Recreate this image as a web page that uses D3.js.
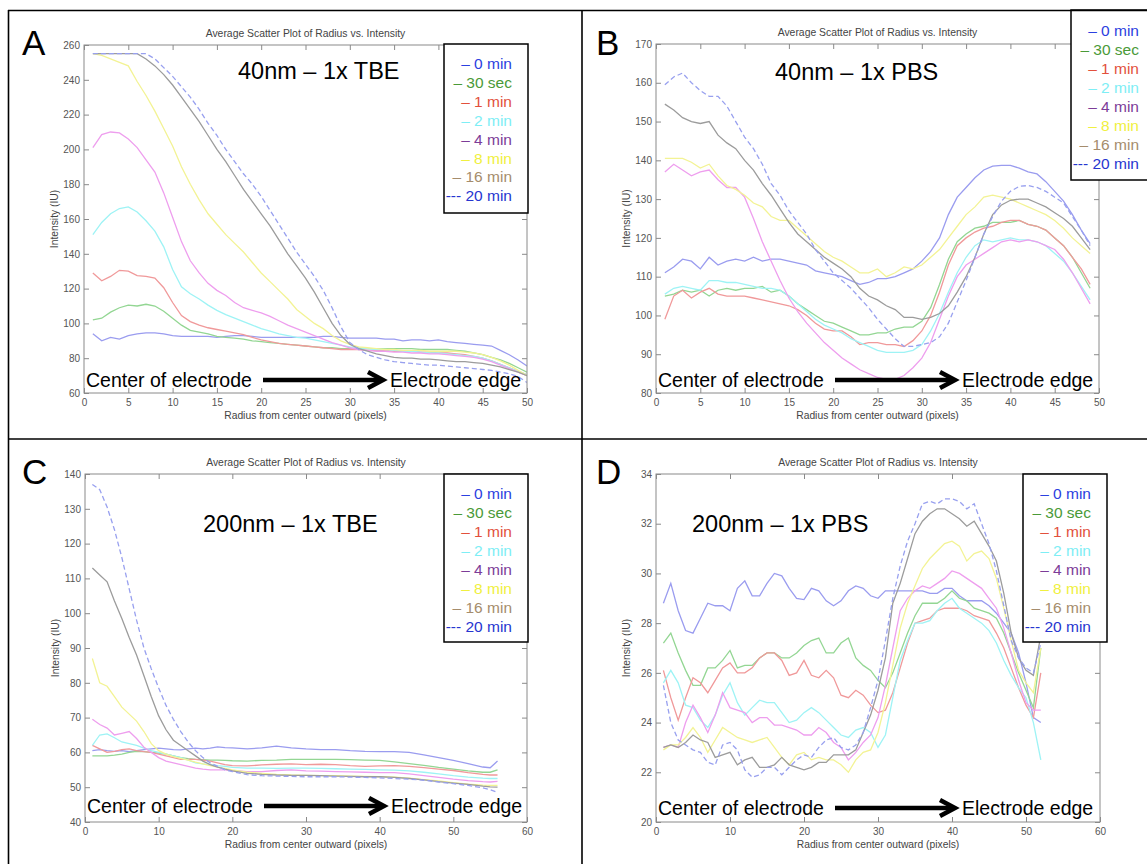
<!DOCTYPE html>
<html>
<head>
<meta charset="utf-8">
<script src="https://cdn.jsdelivr.net/npm/d3@7"></script>
<style>
  body { margin: 0; background: #fff; }
  svg { display: block; font-family: "Liberation Sans", Arial, sans-serif; }
</style>
</head>
<body>
<svg id="fig" width="1147" height="864"></svg>
<script>
/* DATA */
const seriesNames = ["0 min", "30 sec", "1 min", "2 min", "4 min", "8 min", "16 min", "20 min"];
const legendLabels = ["\u2013 0 min", "\u2013 30 sec", "\u2013 1 min", "\u2013 2 min", "\u2013 4 min", "\u2013 8 min", "\u2013 16 min", "--- 20 min"];

// radius (pixels) sampled in each panel
const radiusA = d3.range(1, 51);
const radiusB = d3.range(1, 50);
const radiusC = d3.range(1, 21).concat(d3.range(22, 55, 2), [55, 56]);
const radiusD = d3.range(1, 53);

// A: 40nm - 1x TBE
const tbe40_0min = [94, 90, 92, 91, 93, 94, 94.5, 94.5, 94, 93, 92.5, 92.5, 92.5, 92.5, 92, 92.5, 93, 93, 92.5, 92, 92, 92, 92, 92, 92, 92, 92.5, 92.5, 92, 91.5, 91.5, 91.5, 91.5, 91, 91, 90, 90.5, 90.5, 90, 90.5, 89.5, 89, 88.5, 88, 87.5, 87, 84.5, 82, 79, 75.5];
const tbe40_30sec = [102, 103, 106.5, 109, 110.5, 110, 111, 110, 107, 103, 99, 96, 95, 94, 92.5, 92, 91.5, 91, 90, 89.5, 89, 88.5, 88, 87.5, 87, 86.5, 86, 86, 85.5, 85.5, 85.5, 85.5, 85.5, 85.5, 85.5, 85.5, 85.5, 85, 85, 85, 85, 84.5, 84, 83, 82, 80.5, 79, 77, 74.5, 72];
const tbe40_1min = [129, 124.5, 127, 130.5, 130, 127.5, 127, 126, 120.5, 112, 104.5, 101, 99, 97.5, 96.5, 95.5, 94.5, 93.5, 92, 90.5, 89.5, 88.5, 88, 87.5, 87, 86.5, 86, 85.5, 85, 85, 85, 84.5, 84.5, 84.5, 84, 84, 84, 83.5, 83.5, 83, 83, 82.5, 82, 81, 80, 78.5, 76.5, 74.5, 72.5, 70.5];
const tbe40_2min = [151, 158, 163, 166, 167, 164, 159, 153, 144, 131, 121, 117, 114, 110.5, 107.5, 105, 103, 101, 99, 97, 95.5, 94, 93, 92, 91.5, 90.5, 89.5, 88.5, 87.5, 86.5, 86, 85.5, 85, 85, 84.5, 84, 84, 83.5, 83, 83, 82.5, 82, 81.5, 81, 80, 78.5, 76.5, 74.5, 72.5, 70.5];
const tbe40_4min = [201, 208.5, 210, 209.5, 206, 201, 194, 187, 175, 161, 147, 136, 129, 123, 119, 116, 112, 109, 107.5, 106, 104, 101.5, 99, 97, 95, 93, 91, 89, 87.5, 86, 85, 84.5, 84, 84, 83.5, 83.5, 83, 83, 82.5, 82.5, 82, 81.5, 81, 80.5, 79.5, 78, 76, 74, 72, 70];
const tbe40_8min = [255, 254, 252, 250, 248, 239, 231, 222, 212, 202, 190, 180, 171, 163, 157, 151, 146, 141, 135, 129, 124, 119, 114, 108, 104, 100, 97, 93, 90, 88, 86.5, 86, 85.5, 85, 85, 84.5, 84.5, 84.5, 84, 84, 84, 84, 83.5, 83, 82, 80.5, 78.5, 76, 73, 70];
const tbe40_16min = [255, 255, 255, 255, 255, 255, 252, 248, 243, 237, 230, 223, 216, 208, 200, 193, 185, 177, 170, 163, 156, 148, 140, 133, 126, 118, 109, 100, 93, 88, 85.5, 84, 82.5, 81.5, 80.5, 80, 80, 79.5, 79.5, 79, 78.5, 78, 78, 77.5, 77, 76, 75, 73.5, 72, 70];
const tbe40_20min = [255, 255, 255, 255, 255, 255, 255, 252, 247, 242, 236, 230, 223, 215, 208, 200, 193, 186, 180, 173, 165, 157, 149, 141, 134, 127, 119, 109, 98, 89, 85, 82, 80.5, 79, 78, 77.5, 77, 76.5, 76, 76, 75.5, 75, 74.5, 74, 73.5, 73, 72, 71, 69.5, 66];

// B: 40nm - 1x PBS
const pbs40_0min = [111, 112.5, 114.5, 114, 112, 115, 113, 114, 114.5, 114, 115, 114, 114.5, 114.5, 114, 113.5, 113, 111.5, 111, 110.5, 110, 109, 108, 108.5, 109.5, 109.5, 110, 111, 112, 114, 116.5, 120, 126, 130.5, 133, 135.5, 137.5, 138.5, 138.7, 138.7, 138, 137, 136.5, 134.5, 132, 129.5, 126, 122, 118.5];
const pbs40_30sec = [105, 105.5, 106.5, 106, 106.5, 105, 106.5, 107, 106.5, 107, 107, 107.5, 106, 106.5, 105, 103, 101.5, 100, 98.5, 98, 97, 96, 95, 95, 95.5, 95.5, 96.5, 97, 97, 98.5, 102, 108, 114.5, 119, 121, 122.5, 123, 124, 124, 124, 124.5, 123.5, 123, 122, 120, 118, 115, 111, 107];
const pbs40_1min = [99, 105, 106.5, 104.5, 106, 107, 105.5, 105, 105, 105, 104.5, 104, 103.5, 103, 102.5, 101.5, 100, 98, 96.5, 96, 96, 94.5, 92.5, 93, 93, 92.5, 92.5, 92, 93.5, 96, 100, 106, 113, 118, 120, 121.5, 122.5, 123, 124, 124.5, 124.5, 123.5, 123, 122, 120, 118, 115, 112, 108];
const pbs40_2min = [105.5, 107, 107.5, 107, 106.5, 109, 109, 108.5, 108.5, 108, 107.5, 107, 107, 106.5, 105, 103, 101, 99, 97.5, 96.5, 95.5, 94, 93, 92, 91, 90.5, 90.5, 90.5, 91, 92.5, 96, 100.5, 106, 111, 115, 118, 119.5, 119, 119.5, 120, 119.5, 119.5, 119, 118, 116, 114, 111, 107.5, 104];
const pbs40_4min = [137, 139, 137.5, 136, 137, 137.5, 135, 133, 133, 130.5, 125, 119, 114, 109, 104.5, 101, 98, 95.5, 93, 91, 89, 87.5, 86, 85, 84, 83.5, 83.5, 84.5, 86.5, 89, 93, 99, 105, 110, 113, 114.5, 116, 117.5, 119, 119.5, 119, 119.5, 119, 118, 117, 114.5, 111, 107, 103];
const pbs40_8min = [140.5, 140.5, 140.5, 139.5, 138, 139, 136, 133.5, 132.5, 131, 129, 128, 125.5, 124.5, 124.5, 122.5, 120.5, 118.5, 116.5, 115, 114, 112.5, 111, 111, 112, 110, 111, 112.5, 112, 113, 115, 117, 120, 123, 126, 128, 130.5, 131, 130.5, 130, 129, 128, 127, 126, 124.5, 122.5, 120, 118, 116];
const pbs40_16min = [154.5, 153, 151, 150, 149.5, 150, 146.5, 144.5, 143, 140, 137.5, 134, 131, 127.5, 124, 121, 119, 117, 115, 113.5, 112, 110, 107, 105, 104, 102.5, 101.5, 99.5, 99.5, 99, 99.5, 100.5, 102.5, 106, 110, 115, 121, 126, 128.5, 129.7, 130, 130, 129, 128, 126.5, 125, 123, 120, 117];
const pbs40_20min = [159.5, 161.5, 162.5, 160, 158, 156.5, 156.5, 154, 150, 146, 143, 139, 134, 131, 127, 124, 121, 117, 114, 111, 109, 107, 104.5, 102, 99, 96.5, 94, 92, 92, 92.5, 93, 94.5, 98, 103.5, 109, 115, 121, 125.5, 129.5, 132, 133.3, 133.5, 133, 132, 130.5, 129, 125.5, 122, 118];

// C: 200nm - 1x TBE
const tbe200_0min = [60.5, 60.8, 60.5, 60.3, 60.5, 60.2, 60.5, 60.8, 61, 61.2, 61, 60.8, 60.7, 61, 61.2, 61, 61.2, 61.6, 61.4, 61.3, 61, 61.3, 61.8, 61.3, 61, 60.8, 60.8, 60.5, 60.3, 60.2, 60.2, 60, 59.3, 58.5, 57.7, 56.8, 55.8, 55.6, 57.5];
const tbe200_30sec = [59, 59, 59, 59.2, 59.5, 60, 60.3, 60.2, 60, 59.8, 59.5, 59, 58.5, 58.2, 58, 57.9, 57.8, 57.8, 57.7, 57.6, 57.5, 57.7, 57.8, 58, 58, 58, 58, 57.9, 57.8, 57.7, 57.3, 56.8, 56.3, 55.7, 55.2, 54.7, 54.3, 54.3, 55];
const tbe200_1min = [62, 61, 60, 60.3, 60.8, 61, 60.5, 60.2, 60, 59.5, 59, 58.5, 58, 58, 58, 57.8, 57.5, 57, 56.5, 56.2, 56.1, 56.4, 56.6, 56.7, 56.5, 56.6, 56.5, 56.2, 56, 56.1, 56.2, 56, 55.6, 55.2, 54.8, 54.2, 53.7, 53.5, 53.5];
const tbe200_2min = [62, 65, 65.3, 64.2, 63, 62.5, 62, 61.2, 60.5, 60, 59.5, 59, 58.5, 57.8, 57, 56.7, 56.5, 56.2, 56, 55.7, 55.5, 55.5, 55.4, 55.5, 55.5, 55.4, 55.3, 55.2, 55.1, 55, 54.9, 54.7, 54.3, 53.8, 53.3, 52.9, 52.6, 52.5, 52.5];
const tbe200_4min = [69.5, 68, 67, 65, 65.5, 66, 64, 61.5, 60, 58.5, 57.5, 57, 56.5, 56, 55.5, 55.2, 55, 55, 55, 54.8, 54.5, 54.5, 54.8, 55, 54.7, 54.6, 54.5, 54.4, 54.3, 54.2, 54.2, 53.8, 53.3, 52.8, 52.3, 51.9, 51.6, 51.5, 51.7];
const tbe200_8min = [87, 80, 79, 76, 73, 71, 69, 66, 62.5, 60.5, 59.5, 58.8, 58.3, 57.8, 57.2, 56.7, 56.2, 55.8, 55.4, 55, 54.3, 54, 53.7, 53.5, 53.4, 53.3, 53.3, 53.2, 53.1, 53, 52.9, 52.6, 52.2, 51.8, 51.3, 50.9, 50.6, 50.5, 50.5];
const tbe200_16min = [113, 111, 109, 103.5, 98.5, 93, 88, 82, 76, 70.5, 66.5, 63.5, 62, 60.5, 59, 57.5, 56.5, 55.8, 55.2, 54.7, 54, 53.7, 53.5, 53.4, 53.4, 53.3, 53.2, 53.1, 53, 53, 52.8, 52.5, 52.1, 51.6, 51.2, 50.8, 50.3, 50.1, 50];
const tbe200_20min = [137, 135.5, 130.5, 124, 116, 107, 98, 90, 84, 78.5, 73.5, 69.5, 66, 63, 60.5, 58.5, 57, 56, 55, 54.5, 53.6, 53.3, 53.2, 53.1, 53, 53, 53, 52.9, 52.8, 52.7, 52.5, 52.3, 52, 51.5, 51, 50.5, 49.8, 49.3, 48.5];

// D: 200nm - 1x PBS
const pbs200_0min = [28.8, 29.6, 28.5, 27.7, 27.6, 28.2, 28.8, 28.7, 28.7, 28.5, 29.4, 29.7, 29.1, 29.1, 29.6, 30.0, 29.9, 29.4, 29.0, 28.95, 29.4, 29.3, 28.9, 28.7, 28.9, 29.3, 29.5, 29.4, 29.1, 29.0, 29.3, 29.3, 29.3, 29.3, 29.3, 29.3, 29.2, 29.2, 29.4, 29.4, 29.1, 28.9, 28.9, 28.9, 28.7, 28.4, 28.0, 27.6, 26.8, 25.6, 24.2, 24.0];
const pbs200_30sec = [27.2, 27.6, 26.8, 26.1, 25.5, 25.5, 26.2, 26.2, 26.5, 26.9, 26.2, 26.3, 26.3, 26.6, 26.8, 26.8, 26.6, 26.6, 26.8, 27.1, 27.3, 27.4, 26.8, 26.8, 27.2, 27.4, 26.6, 26.3, 26.1, 25.7, 25.4, 26.0, 26.8, 27.6, 28.3, 28.8, 28.8, 28.8, 29.0, 29.3, 29.0, 28.9, 28.6, 28.5, 28.4, 28.2, 27.6, 26.8, 26.0, 25.3, 24.6, 27.0];
const pbs200_1min = [26.1, 25.0, 24.1, 25.0, 25.8, 25.6, 25.2, 25.7, 26.2, 26.4, 26.0, 26.0, 26.2, 26.6, 26.8, 26.8, 26.5, 25.9, 26.0, 26.5, 25.9, 25.8, 26.1, 25.8, 25.1, 25.0, 25.3, 25.1, 24.7, 24.4, 24.5, 25.2, 26.2, 27.2, 28.0, 28.1, 28.2, 28.5, 28.6, 28.6, 28.6, 28.5, 28.3, 28.2, 28.1, 27.6, 27.0, 26.2, 25.4, 24.7, 24.2, 26.0];
const pbs200_2min = [25.6, 26.1, 25.6, 24.7, 24.6, 24.1, 23.8, 24.3, 25.1, 25.6, 24.8, 24.3, 24.6, 24.9, 24.8, 24.8, 24.4, 24.0, 24.1, 24.4, 24.6, 24.4, 24.1, 23.8, 23.5, 23.4, 23.7, 23.8, 23.6, 23.0, 23.5, 25.0, 26.5, 27.3, 28.0, 28.0, 28.1, 28.5, 28.8, 29.0, 28.6, 28.4, 28.2, 28.0, 27.7, 27.2, 26.5, 25.9, 25.4, 25.0, 24.0, 22.5];
const pbs200_4min = [23.0, 23.1, 23.0, 24.0, 24.7, 24.2, 23.6, 24.3, 25.2, 24.6, 24.5, 24.4, 24.0, 24.2, 24.2, 23.9, 23.9, 23.8, 23.7, 23.5, 23.5, 23.8, 23.6, 23.2, 23.0, 22.5, 22.8, 23.2, 23.5, 24.2, 25.5, 27.0, 28.5, 29.0, 29.3, 29.5, 29.4, 29.6, 29.8, 30.1, 30.0, 29.8, 29.6, 29.4, 29.0, 28.6, 27.8, 26.8, 25.7, 24.8, 24.5, 24.5];
const pbs200_8min = [22.9, 23.1, 23.1, 23.4, 23.8, 23.4, 22.8, 23.3, 23.8, 23.6, 23.4, 23.3, 23.2, 23.3, 23.4, 23.0, 22.6, 22.3, 22.7, 22.8, 22.5, 22.6, 22.5, 22.5, 22.3, 22.0, 22.5, 22.8, 22.9, 23.6, 24.8, 26.3, 27.8, 28.8, 29.5, 30.2, 30.6, 30.9, 31.2, 31.3, 31.1, 30.5, 30.8, 30.9, 30.6, 29.8, 28.6, 27.3, 26.1, 25.6, 25.2, 27.0];
const pbs200_16min = [23.0, 23.1, 23.0, 23.2, 23.5, 23.3, 23.2, 22.6, 22.7, 22.8, 22.3, 22.5, 22.6, 22.2, 22.2, 22.3, 22.6, 22.3, 22.2, 22.1, 22.2, 22.4, 22.4, 22.7, 22.7, 22.7, 22.9, 23.6, 24.3, 25.3, 26.6, 28.8, 29.6, 30.6, 31.6, 32.1, 32.4, 32.6, 32.6, 32.4, 32.2, 31.9, 32.1, 31.6, 31.1, 30.5, 29.2, 27.6, 26.6, 26.1, 25.9, 27.5];
const pbs200_20min = [25.5, 24.0, 23.3, 23.1, 22.9, 22.8, 22.4, 22.3, 23.1, 23.2, 22.9, 22.1, 21.8, 21.9, 22.2, 22.2, 21.9, 22.2, 22.5, 22.7, 22.6, 23.0, 23.3, 23.4, 23.0, 22.9, 23.1, 23.6, 24.6, 25.7, 27.3, 29.0, 30.3, 31.3, 32.0, 32.8, 32.9, 32.8, 33.0, 33.0, 32.9, 32.6, 32.8, 32.0, 31.2, 30.1, 28.7, 27.3, 26.6, 26.2, 26.0, 27.2];

/* STYLES */
const lineColors = ["#9a9cef", "#93d693", "#f0999a", "#9ef3f5", "#ee9eee", "#f3f394", "#9c9c9c", "#98a0ef"];
const legendColors = ["#2b40e0", "#4a9a38", "#e2503c", "#7eeef5", "#7c3c98", "#f0f040", "#a58c6c", "#2636d0"];

/* PANELS (layout only, values come from the arrays above) */
const panels = [
  { letter: "A", subtitle: "40nm \u2013 1x TBE", radius: radiusA,
    series: [tbe40_0min, tbe40_30sec, tbe40_1min, tbe40_2min, tbe40_4min, tbe40_8min, tbe40_16min, tbe40_20min],
    xDomain: [0, 50], xTicks: d3.range(0, 51, 5), yDomain: [60, 260], yTicks: d3.range(60, 261, 20),
    left: 84, right: 527, top: 45, bottom: 393,
    letterPos: [22, 55], subPos: [238, 79], annoY: 387,
    legend: { x: 444, y: 44, w: 84, h: 169, textX: 512, row0: 63.5, step: 18.9 } },
  { letter: "B", subtitle: "40nm \u2013 1x PBS", radius: radiusB,
    series: [pbs40_0min, pbs40_30sec, pbs40_1min, pbs40_2min, pbs40_4min, pbs40_8min, pbs40_16min, pbs40_20min],
    xDomain: [0, 50], xTicks: d3.range(0, 51, 5), yDomain: [80, 170], yTicks: d3.range(80, 171, 10),
    left: 656, right: 1099, top: 44, bottom: 393,
    letterPos: [596, 55], subPos: [775, 80], annoY: 387,
    legend: { x: 1071, y: 10, w: 90, h: 170, textX: 1139, row0: 30, step: 19 } },
  { letter: "C", subtitle: "200nm \u2013 1x TBE", radius: radiusC,
    series: [tbe200_0min, tbe200_30sec, tbe200_1min, tbe200_2min, tbe200_4min, tbe200_8min, tbe200_16min, tbe200_20min],
    xDomain: [0, 60], xTicks: d3.range(0, 61, 10), yDomain: [40, 140], yTicks: d3.range(40, 141, 10),
    left: 85, right: 527, top: 474, bottom: 822,
    letterPos: [22, 484], subPos: [203, 532], annoY: 813,
    legend: { x: 444, y: 474, w: 84, h: 168, textX: 512, row0: 493, step: 19 } },
  { letter: "D", subtitle: "200nm \u2013 1x PBS", radius: radiusD,
    series: [pbs200_0min, pbs200_30sec, pbs200_1min, pbs200_2min, pbs200_4min, pbs200_8min, pbs200_16min, pbs200_20min],
    xDomain: [0, 60], xTicks: d3.range(0, 61, 10), yDomain: [20, 34], yTicks: d3.range(20, 35, 2),
    left: 656, right: 1100, top: 474, bottom: 822,
    letterPos: [596, 484], subPos: [692, 532], annoY: 815,
    legend: { x: 1023, y: 474, w: 84, h: 168, textX: 1091, row0: 493, step: 19 } }
];

const svg = d3.select("#fig");
svg.append("rect").attr("width", 1147).attr("height", 864).attr("fill", "#fff");

panels.forEach((p, pi) => drawPanel(p, pi));
drawFrame();

function drawPanel(p, pi) {
  const g = svg.append("g");
  const x = d3.scaleLinear().domain(p.xDomain).range([p.left, p.right]);
  const y = d3.scaleLinear().domain(p.yDomain).range([p.bottom, p.top]);

  // title + axis labels
  g.append("text")
    .attr("x", (p.left + p.right) / 2).attr("y", p.top - 8.5)
    .attr("text-anchor", "middle").attr("font-size", 10.4).attr("fill", "#444")
    .text("Average Scatter Plot of Radius vs. Intensity");
  g.append("text")
    .attr("x", (p.left + p.right) / 2).attr("y", p.bottom + 26)
    .attr("text-anchor", "middle").attr("font-size", 10.3).attr("fill", "#444")
    .text("Radius from center outward (pixels)");
  g.append("text")
    .attr("transform", `translate(${p.left - 26},${(p.top + p.bottom) / 2}) rotate(-90)`)
    .attr("text-anchor", "middle").attr("font-size", 10.3).attr("fill", "#444")
    .text("Intensity (IU)");

  // axes, matlab style: inward ticks on all four sides
  const axes = [
    [d3.axisBottom(x).tickValues(p.xTicks).tickPadding(6), `translate(0,${p.bottom})`],
    [d3.axisTop(x).tickValues(p.xTicks).tickFormat(""), `translate(0,${p.top})`],
    [d3.axisLeft(y).tickValues(p.yTicks).tickPadding(4), `translate(${p.left},0)`],
    [d3.axisRight(y).tickValues(p.yTicks).tickFormat(""), `translate(${p.right},0)`]
  ];
  axes.forEach(([ax, tr]) => {
    const a = g.append("g").attr("transform", tr)
      .call(ax.tickSizeInner(-5).tickSizeOuter(0));
    a.select(".domain").remove();
    a.selectAll(".tick line").attr("stroke", "#8a8a8a");
    a.selectAll(".tick text").attr("fill", "#555").attr("font-size", 10)
      .attr("font-family", "Liberation Sans, Arial, sans-serif");
  });

  // clip
  const clipId = "clip" + pi;
  svg.append("clipPath").attr("id", clipId).append("rect")
    .attr("x", p.left).attr("y", p.top)
    .attr("width", p.right - p.left).attr("height", p.bottom - p.top);

  const line = d3.line()
    .x((d, i) => x(p.radius[i]))
    .y(d => y(d));

  g.append("g").attr("clip-path", `url(#${clipId})`)
    .selectAll("path")
    .data(p.series)
    .join("path")
    .attr("d", line)
    .attr("fill", "none")
    .attr("stroke", (d, i) => lineColors[i])
    .attr("stroke-width", 1.3)
    .attr("stroke-dasharray", (d, i) => i === 7 ? "5,3" : null);

  // box
  g.append("rect")
    .attr("x", p.left).attr("y", p.top)
    .attr("width", p.right - p.left).attr("height", p.bottom - p.top)
    .attr("fill", "none").attr("stroke", "#8a8a8a").attr("stroke-width", 1);

  // panel letter and subtitle
  g.append("text").attr("x", p.letterPos[0]).attr("y", p.letterPos[1])
    .attr("font-size", 35).attr("fill", "#000").text(p.letter);
  g.append("text").attr("x", p.subPos[0]).attr("y", p.subPos[1])
    .attr("font-size", 23.5).attr("fill", "#000").text(p.subtitle);

  // center -> edge annotation
  const ax0 = p.left + 2;
  g.append("text").attr("x", ax0).attr("y", p.annoY)
    .attr("font-size", 19.5).attr("fill", "#000").text("Center of electrode");
  const arrowY = p.annoY - 7;
  const arrowStart = ax0 + 177, arrowEnd = ax0 + 297;
  g.append("line")
    .attr("x1", arrowStart).attr("x2", arrowEnd - 3)
    .attr("y1", arrowY).attr("y2", arrowY)
    .attr("stroke", "#000").attr("stroke-width", 4.5);
  g.append("path")
    .attr("d", `M${arrowEnd - 15},${arrowY - 8} L${arrowEnd},${arrowY} L${arrowEnd - 15},${arrowY + 8}`)
    .attr("fill", "none").attr("stroke", "#000").attr("stroke-width", 4.5);
  g.append("text").attr("x", ax0 + 304).attr("y", p.annoY)
    .attr("font-size", 19.5).attr("fill", "#000").text("Electrode edge");

  // legend
  const L = p.legend;
  g.append("rect").attr("x", L.x).attr("y", L.y).attr("width", L.w).attr("height", L.h)
    .attr("fill", "#fff").attr("stroke", "#000").attr("stroke-width", 1.5);
  g.append("g").selectAll("text")
    .data(seriesNames)
    .join("text")
    .attr("x", L.textX)
    .attr("y", (d, i) => L.row0 + i * L.step + 5.5)
    .attr("text-anchor", "end")
    .attr("font-size", 15.5)
    .attr("fill", (d, i) => legendColors[i])
    .text((d, i) => legendLabels[i]);
}

function drawFrame() {
  const f = svg.append("g").attr("stroke", "#000").attr("stroke-width", 1.6);
  f.append("line").attr("x1", 8).attr("x2", 1147).attr("y1", 10.5).attr("y2", 10.5);
  f.append("line").attr("x1", 8.5).attr("x2", 8.5).attr("y1", 10).attr("y2", 864);
  f.append("line").attr("x1", 582).attr("x2", 582).attr("y1", 10).attr("y2", 864);
  f.append("line").attr("x1", 8).attr("x2", 1147).attr("y1", 439).attr("y2", 439);
}
</script>
</body>
</html>
